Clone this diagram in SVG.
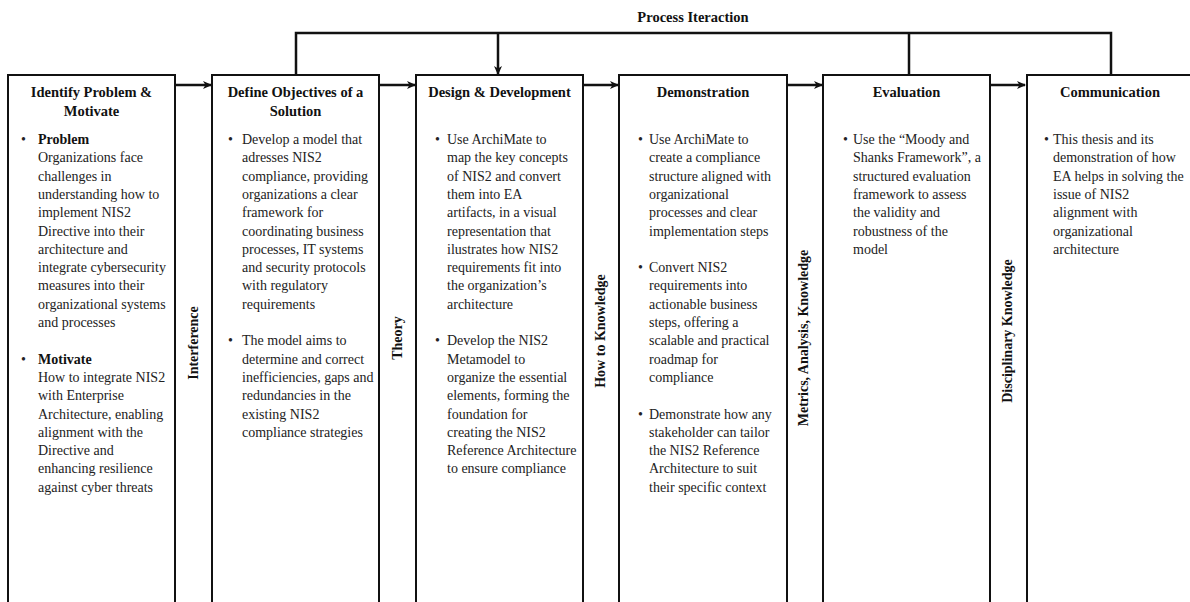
<svg xmlns="http://www.w3.org/2000/svg" width="1190" height="602" viewBox="0 0 1190 602">
<style>
.box{fill:#fff;stroke:#111;stroke-width:2}
.t{font-family:"Liberation Serif","Times New Roman",serif;font-size:14.5px;font-weight:bold;fill:#111;text-anchor:middle}
.b{font-family:"Liberation Serif","Times New Roman",serif;font-size:14px;fill:#222}
.bb{font-weight:bold;fill:#111}
.v{font-family:"Liberation Serif","Times New Roman",serif;font-size:14px;font-weight:bold;fill:#111;text-anchor:middle}
.c{fill:none;stroke:#111;stroke-width:2.5}
</style>
<defs>
<marker id="ah" markerWidth="9" markerHeight="9" refX="8" refY="4.5" orient="auto" markerUnits="userSpaceOnUse">
<path d="M0,0.5 L9,4.5 L0,8.5 L2.5,4.5 z" fill="#111"/>
</marker>
</defs>
<rect width="1190" height="602" fill="#fff"/>

<g id="connectors">
<polyline class="c" points="296,74 296,33 1111,33 1111,75" marker-start="url(#ah)"/>
<line class="c" x1="498" y1="33" x2="498" y2="74" marker-end="url(#ah)"/>
<line class="c" x1="909" y1="33" x2="909" y2="75"/>
<line class="c" x1="175" y1="85" x2="211" y2="85" marker-end="url(#ah)"/>
<line class="c" x1="379" y1="85" x2="415" y2="85" marker-end="url(#ah)"/>
<line class="c" x1="583" y1="85" x2="618" y2="85" marker-end="url(#ah)"/>
<line class="c" x1="787" y1="85" x2="822" y2="85" marker-end="url(#ah)"/>
<line class="c" x1="990" y1="85" x2="1025" y2="85" marker-end="url(#ah)"/>
<text class="t" x="693" y="22">Process Iteraction</text>
</g>

<g id="labels">
<text class="v" transform="translate(193,343) rotate(-90)" y="5">Interference</text>
<text class="v" transform="translate(397,338) rotate(-90)" y="5">Theory</text>
<text class="v" transform="translate(600,331) rotate(-90)" y="5">How to Knowledge</text>
<text class="v" transform="translate(803,338) rotate(-90)" y="5">Metrics, Analysis, Knowledge</text>
<text class="v" transform="translate(1007,331) rotate(-90)" y="5">Disciplinary Knowledge</text>
</g>

<g id="identify">
<rect class="box" x="8" y="75" width="167" height="540"/>
<text class="t" x="91.5" y="97">Identify Problem &amp;</text>
<text class="t" x="91.5" y="116">Motivate</text>
<text class="b" x="21" y="144">•</text>
<text class="b" x="38" y="144"><tspan class="bb">Problem</tspan><tspan x="38" dy="18.3">Organizations face</tspan><tspan x="38" dy="18.3">challenges in</tspan><tspan x="38" dy="18.3">understanding how to</tspan><tspan x="38" dy="18.3">implement NIS2</tspan><tspan x="38" dy="18.3">Directive into their</tspan><tspan x="38" dy="18.3">architecture and</tspan><tspan x="38" dy="18.3">integrate cybersecurity</tspan><tspan x="38" dy="18.3">measures into their</tspan><tspan x="38" dy="18.3">organizational systems</tspan><tspan x="38" dy="18.3">and processes</tspan></text>
<text class="b" x="21" y="363.6">•</text>
<text class="b" x="38" y="363.6"><tspan class="bb">Motivate</tspan><tspan x="38" dy="18.3">How to integrate NIS2</tspan><tspan x="38" dy="18.3">with Enterprise</tspan><tspan x="38" dy="18.3">Architecture, enabling</tspan><tspan x="38" dy="18.3">alignment with the</tspan><tspan x="38" dy="18.3">Directive and</tspan><tspan x="38" dy="18.3">enhancing resilience</tspan><tspan x="38" dy="18.3">against cyber threats</tspan></text>
</g>

<g id="objectives">
<rect class="box" x="212" y="75" width="167" height="540"/>
<text class="t" x="295.5" y="97">Define Objectives of a</text>
<text class="t" x="295.5" y="116">Solution</text>
<text class="b" x="228" y="144">•</text>
<text class="b" x="242" y="144"><tspan>Develop a model that</tspan><tspan x="242" dy="18.3">adresses NIS2</tspan><tspan x="242" dy="18.3">compliance, providing</tspan><tspan x="242" dy="18.3">organizations a clear</tspan><tspan x="242" dy="18.3">framework for</tspan><tspan x="242" dy="18.3">coordinating business</tspan><tspan x="242" dy="18.3">processes, IT systems</tspan><tspan x="242" dy="18.3">and security protocols</tspan><tspan x="242" dy="18.3">with regulatory</tspan><tspan x="242" dy="18.3">requirements</tspan></text>
<text class="b" x="228" y="345.3">•</text>
<text class="b" x="242" y="345.3"><tspan>The model aims to</tspan><tspan x="242" dy="18.3">determine and correct</tspan><tspan x="242" dy="18.3">inefficiencies, gaps and</tspan><tspan x="242" dy="18.3">redundancies in the</tspan><tspan x="242" dy="18.3">existing NIS2</tspan><tspan x="242" dy="18.3">compliance strategies</tspan></text>
</g>

<g id="design">
<rect class="box" x="416" y="75" width="167" height="540"/>
<text class="t" x="499.5" y="97">Design &amp; Development</text>
<text class="b" x="435" y="144">•</text>
<text class="b" x="447" y="144"><tspan>Use ArchiMate to</tspan><tspan x="447" dy="18.3">map the key concepts</tspan><tspan x="447" dy="18.3">of NIS2 and convert</tspan><tspan x="447" dy="18.3">them into EA</tspan><tspan x="447" dy="18.3">artifacts, in a visual</tspan><tspan x="447" dy="18.3">representation that</tspan><tspan x="447" dy="18.3">ilustrates how NIS2</tspan><tspan x="447" dy="18.3">requirements fit into</tspan><tspan x="447" dy="18.3">the organization’s</tspan><tspan x="447" dy="18.3">architecture</tspan></text>
<text class="b" x="435" y="345.3">•</text>
<text class="b" x="447" y="345.3"><tspan>Develop the NIS2</tspan><tspan x="447" dy="18.3">Metamodel to</tspan><tspan x="447" dy="18.3">organize the essential</tspan><tspan x="447" dy="18.3">elements, forming the</tspan><tspan x="447" dy="18.3">foundation for</tspan><tspan x="447" dy="18.3">creating the NIS2</tspan><tspan x="447" dy="18.3">Reference Architecture</tspan><tspan x="447" dy="18.3">to ensure compliance</tspan></text>
</g>

<g id="demonstration">
<rect class="box" x="619" y="75" width="168" height="540"/>
<text class="t" x="703" y="97">Demonstration</text>
<text class="b" x="638" y="144">•</text>
<text class="b" x="649" y="144"><tspan>Use ArchiMate to</tspan><tspan x="649" dy="18.3">create a compliance</tspan><tspan x="649" dy="18.3">structure aligned with</tspan><tspan x="649" dy="18.3">organizational</tspan><tspan x="649" dy="18.3">processes and clear</tspan><tspan x="649" dy="18.3">implementation steps</tspan></text>
<text class="b" x="638" y="272.1">•</text>
<text class="b" x="649" y="272.1"><tspan>Convert NIS2</tspan><tspan x="649" dy="18.3">requirements into</tspan><tspan x="649" dy="18.3">actionable business</tspan><tspan x="649" dy="18.3">steps, offering a</tspan><tspan x="649" dy="18.3">scalable and practical</tspan><tspan x="649" dy="18.3">roadmap for</tspan><tspan x="649" dy="18.3">compliance</tspan></text>
<text class="b" x="638" y="418.5">•</text>
<text class="b" x="649" y="418.5"><tspan>Demonstrate how any</tspan><tspan x="649" dy="18.3">stakeholder can tailor</tspan><tspan x="649" dy="18.3">the NIS2 Reference</tspan><tspan x="649" dy="18.3">Architecture to suit</tspan><tspan x="649" dy="18.3">their specific context</tspan></text>
</g>

<g id="evaluation">
<rect class="box" x="823" y="75" width="167" height="540"/>
<text class="t" x="906.5" y="97">Evaluation</text>
<text class="b" x="843" y="144">•</text>
<text class="b" x="853" y="144"><tspan>Use the “Moody and</tspan><tspan x="853" dy="18.3">Shanks Framework”, a</tspan><tspan x="853" dy="18.3">structured evaluation</tspan><tspan x="853" dy="18.3">framework to assess</tspan><tspan x="853" dy="18.3">the validity and</tspan><tspan x="853" dy="18.3">robustness of the</tspan><tspan x="853" dy="18.3">model</tspan></text>
</g>

<g id="communication">
<rect class="box" x="1027" y="75" width="166" height="540"/>
<text class="t" x="1110" y="97">Communication</text>
<text class="b" x="1044" y="144">•</text>
<text class="b" x="1053" y="144"><tspan>This thesis and its</tspan><tspan x="1053" dy="18.3">demonstration of how</tspan><tspan x="1053" dy="18.3">EA helps in solving the</tspan><tspan x="1053" dy="18.3">issue of NIS2</tspan><tspan x="1053" dy="18.3">alignment with</tspan><tspan x="1053" dy="18.3">organizational</tspan><tspan x="1053" dy="18.3">architecture</tspan></text>
</g>
</svg>
